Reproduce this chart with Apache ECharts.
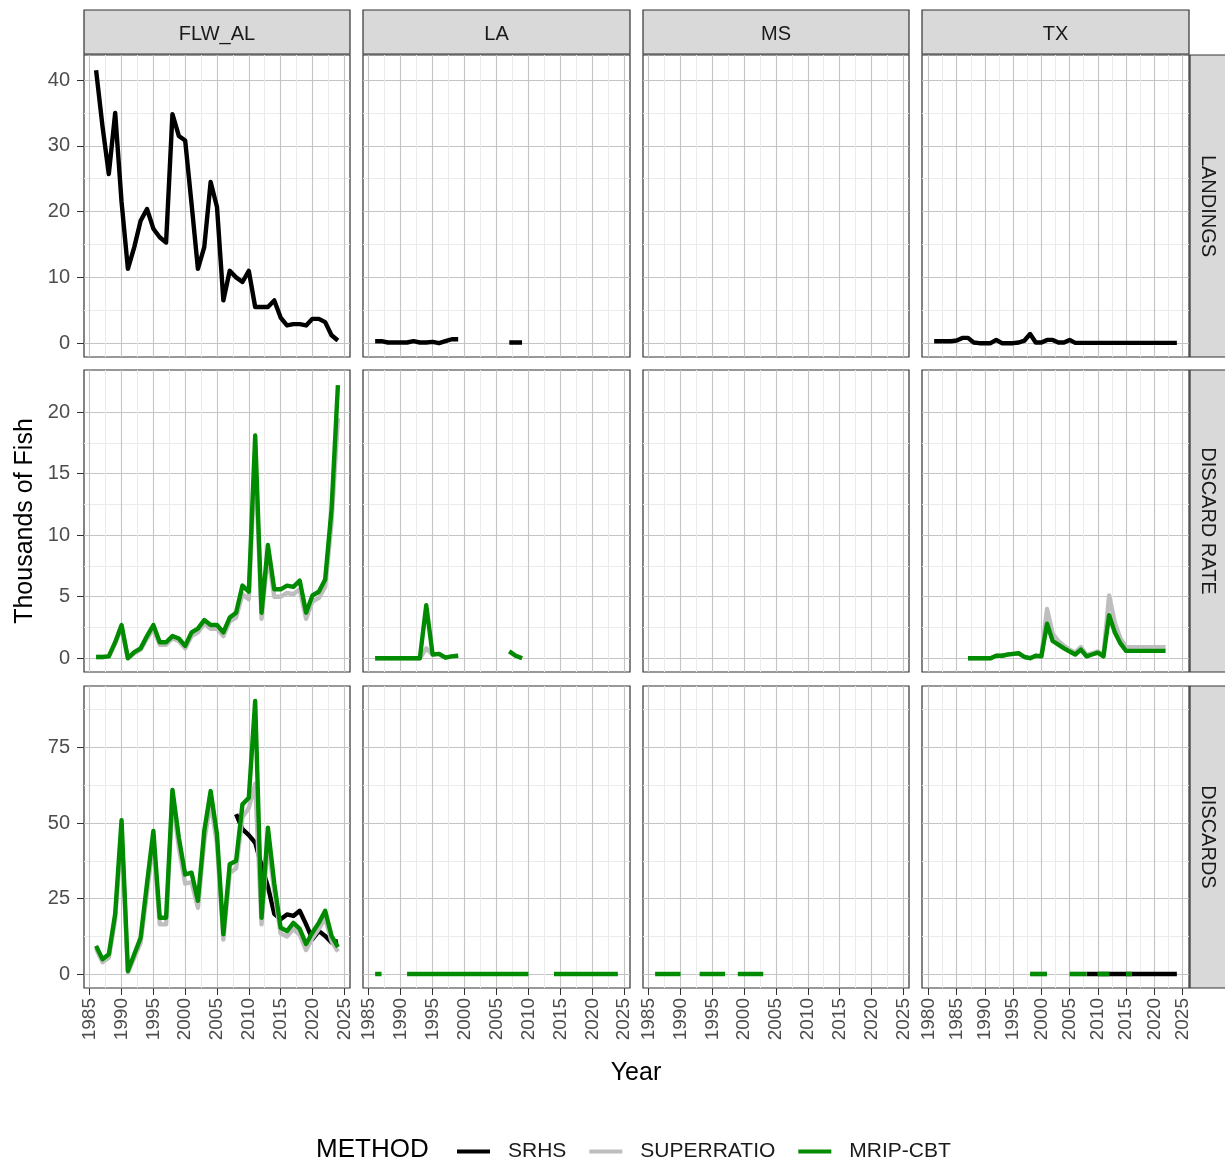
<!DOCTYPE html>
<html><head><meta charset="utf-8">
<script src="https://cdn.jsdelivr.net/npm/echarts@6/dist/echarts.min.js"></script>
<style>html,body{margin:0;padding:0;background:#fff}#c{width:1225px;height:1162px}</style>
</head><body><div id="c"></div>
<script>
// ---------------- DATA ----------------
const yearsMain = [1986,1987,1988,1989,1990,1991,1992,1993,1994,1995,1996,1997,1998,1999,2000,2001,2002,2003,2004,2005,2006,2007,2008,2009,2010,2011,2012,2013,2014,2015,2016,2017,2018,2019,2020,2021,2022,2023,2024];
const yearsTX = [1981,1982,1983,1984,1985,1986,1987,1988,1989,1990,1991,1992,1993,1994,1995,1996,1997,1998,1999,2000,2001,2002,2003,2004,2005,2006,2007,2008,2009,2010,2011,2012,2013,2014,2015,2016,2017,2018,2019,2020,2021,2022,2023,2024];

const stateNames = ['FLW_AL','LA','MS','TX'];
const typeNames = ['LANDINGS','DISCARD RATE','DISCARDS'];
const methodNames = ['SRHS','SUPERRATIO','MRIP-CBT'];

// FLW_AL (1986-2024)
const flwLandSrhs = [41.5,33.0,25.7,35.0,21.5,11.3,14.6,18.6,20.4,17.4,16.1,15.3,34.8,31.5,30.8,21.2,11.3,14.6,24.5,20.7,6.5,11.0,10.0,9.3,11.0,5.5,5.5,5.5,6.5,3.9,2.7,2.9,2.9,2.7,3.7,3.7,3.2,1.2,0.4];
const flwRateSuper = [0.1,0.1,0.15,1.2,2.5,0.0,0.4,0.7,1.6,2.4,1.1,1.1,1.6,1.4,0.8,1.8,2.1,2.8,2.4,2.4,1.8,3.0,3.3,5.2,4.8,16.5,3.2,8.4,5.0,5.0,5.3,5.2,5.6,3.2,4.6,4.9,5.8,11.0,19.5];
const flwRateMrip = [0.1,0.1,0.15,1.3,2.7,0.0,0.5,0.8,1.8,2.7,1.3,1.3,1.8,1.6,1.0,2.1,2.4,3.1,2.7,2.7,2.1,3.3,3.7,5.9,5.4,18.1,3.7,9.2,5.6,5.6,5.9,5.8,6.3,3.7,5.1,5.4,6.4,12.1,22.2];
const flwDiscSrhs = [null,null,null,null,null,null,null,null,null,null,null,null,null,null,null,null,null,null,null,null,null,null,53.0,48.0,46.0,43.5,36.0,29.0,20.0,18.2,19.8,19.3,21.0,16.5,11.6,14.3,12.7,10.5,11.0];
const flwDiscSuper = [8.5,4.0,5.5,18.0,47.0,0.5,5.5,10.5,27.0,44.0,16.5,16.5,58.0,42.0,30.0,30.5,22.0,44.0,57.0,43.0,11.5,33.5,35.0,52.0,55.0,63.0,16.5,44.0,27.5,13.5,12.5,15.0,13.0,8.0,12.0,15.0,18.5,11.0,7.5];
const flwDiscMrip = [9.4,5.0,6.6,20.0,51.0,1.1,6.6,12.1,30.0,47.4,18.7,18.7,61.0,45.2,33.0,33.6,24.3,47.4,60.6,46.3,13.2,36.4,37.5,56.2,58.4,90.4,18.7,48.5,30.0,15.4,14.3,17.0,15.0,10.0,13.8,17.0,21.0,12.7,9.0];

// LA (1986-2024)
const laLandSrhs = [0.3,0.3,0.1,0.1,0.1,0.1,0.3,0.1,0.1,0.2,0.0,0.3,0.6,0.6,null,null,null,null,null,null,null,0.1,0.1,0.1,null,null,null,null,null,null,null,null,null,null,null,null,null,null,null];
const laRateSuper = [0,0,0,0,0,0,0,0,0.8,0.3,0.35,0.05,0.15,0.2,null,null,null,null,null,null,null,0.55,0.2,0.0,null,null,null,null,null,null,null,null,null,null,null,null,null,null,null];
const laRateMrip = [0,0,0,0,0,0,0,0,4.3,0.3,0.35,0.05,0.15,0.2,null,null,null,null,null,null,null,0.55,0.2,0.0,null,null,null,null,null,null,null,null,null,null,null,null,null,null,null];
const laDiscMrip = [0.1,0.1,null,null,null,0.1,0.1,0.1,0.1,0.1,0.1,0.1,0.1,0.1,0.1,0.1,0.1,0.1,0.1,0.1,0.1,0.1,0.1,0.1,0.1,null,null,null,0.1,0.1,0.1,0.1,0.1,0.1,0.1,0.1,0.1,0.1,0.1];

// MS (1986-2024)
const msDiscMrip = [0.1,0.1,0.1,0.1,0.1,null,null,0.1,0.1,0.1,0.1,0.1,null,0.1,0.1,0.1,0.1,0.1,null,null,null,null,null,null,null,null,null,null,null,null,null,null,null,null,null,null,null,null,null];

// TX (1981-2024)
const txLandSrhs = [0.3,0.3,0.3,0.3,0.4,0.8,0.8,0.1,0.0,0.0,0.0,0.5,0.0,0.0,0.0,0.1,0.4,1.4,0.1,0.1,0.5,0.5,0.1,0.1,0.5,0.05,0.05,0.05,0.05,0.05,0.05,0.05,0.05,0.05,0.05,0.05,0.05,0.05,0.05,0.05,0.05,0.05,0.05,0.05];
const txRateSuper = [null,null,null,null,null,null,0,0,0,0,0,0.2,0.2,0.3,0.35,0.4,0.1,0.0,0.2,0.15,4.0,2.0,1.4,1.0,0.7,0.45,0.9,0.25,0.4,0.55,0.25,5.1,2.9,1.6,0.9,0.9,0.9,0.9,0.9,0.9,0.9,0.9,null,null];
const txRateMrip = [null,null,null,null,null,null,0,0,0,0,0,0.2,0.2,0.3,0.35,0.4,0.1,0.0,0.2,0.15,2.8,1.4,1.1,0.8,0.55,0.3,0.7,0.15,0.3,0.45,0.15,3.5,2.1,1.2,0.6,0.6,0.6,0.6,0.6,0.6,0.6,0.6,null,null];
const txDiscSrhs = [null,null,null,null,null,null,null,null,null,null,null,null,null,null,null,null,null,null,null,null,null,null,null,null,null,null,null,0.1,0.1,0.1,0.1,0.1,0.1,0.1,0.1,0.1,0.1,0.1,0.1,0.1,0.1,0.1,0.1,0.1];
const txDiscSuper = [null,null,null,null,null,null,null,null,null,null,null,null,null,null,null,null,null,0.1,0.1,0.1,0.1,null,null,null,0.1,0.1,0.1,0.1,null,0.1,0.1,0.1,null,null,0.1,0.1,null,null,null,null,null,null,null,null];
const txDiscMrip = [null,null,null,null,null,null,null,null,null,null,null,null,null,null,null,null,null,0.1,0.1,0.1,0.1,null,null,null,0.1,0.1,0.1,0.1,null,0.1,0.1,0.1,null,null,0.1,0.1,null,null,null,null,null,null,null,null];

// axis ticks
const yMajorTicks = [[0,10,20,30,40],[0,5,10,15,20],[0,25,50,75]];
const yMinorTicks = [[5,15,25,35],[2.5,7.5,12.5,17.5],[12.5,37.5,62.5,87.5]];
const xMajorTicks = [1985,1990,1995,2000,2005,2010,2015,2020,2025];
const xMajorTicksTX = [1980,1985,1990,1995,2000,2005,2010,2015,2020,2025];
const xMinorTicks = [1987.5,1992.5,1997.5,2002.5,2007.5,2012.5,2017.5,2022.5];
const xMinorTicksTX = [1982.5,1987.5,1992.5,1997.5,2002.5,2007.5,2012.5,2017.5,2022.5];

// ---------------- LAYOUT / STYLE ----------------
const FONT = '"Liberation Sans", Arial, sans-serif';
const COLORS = {'SRHS':'#000000','SUPERRATIO':'#BEBEBE','MRIP-CBT':'#008B00'};
const colLeft = [84, 363, 643, 922];
const colW = [266, 267, 266, 267];
const rowTop = [55, 370, 686];
const rowH = 302;
const yRanges = [[-2.1,43.8],[-1.12,23.42],[-4.54,95.35]];
const xRanges = [[1984.1,2025.9],[1984.1,2025.9],[1984.1,2025.9],[1978.85,2026.15]];

const panelSeries = [
  [ [['SRHS',yearsMain,flwLandSrhs]], [['SRHS',yearsMain,laLandSrhs]], [], [['SRHS',yearsTX,txLandSrhs]] ],
  [ [['SUPERRATIO',yearsMain,flwRateSuper],['MRIP-CBT',yearsMain,flwRateMrip]],
    [['SUPERRATIO',yearsMain,laRateSuper],['MRIP-CBT',yearsMain,laRateMrip]],
    [],
    [['SUPERRATIO',yearsTX,txRateSuper],['MRIP-CBT',yearsTX,txRateMrip]] ],
  [ [['SRHS',yearsMain,flwDiscSrhs],['SUPERRATIO',yearsMain,flwDiscSuper],['MRIP-CBT',yearsMain,flwDiscMrip]],
    [['MRIP-CBT',yearsMain,laDiscMrip]],
    [['MRIP-CBT',yearsMain,msDiscMrip]],
    [['SRHS',yearsTX,txDiscSrhs],['SUPERRATIO',yearsTX,txDiscSuper],['MRIP-CBT',yearsTX,txDiscMrip]] ]
];

const grids = [], xAxes = [], yAxes = [], series = [], graphics = [];
for (let r = 0; r < 3; r++) {
  for (let c = 0; c < 4; c++) {
    const g = grids.length;
    grids.push({left: colLeft[c], top: rowTop[r], width: colW[c], height: rowH,
      show: true, backgroundColor: '#ffffff', borderColor: '#333333', borderWidth: 1.2});
    const xr = xRanges[c], yr = yRanges[r];
    const xMaj = c === 3 ? xMajorTicksTX : xMajorTicks;
    const xMin = c === 3 ? xMinorTicksTX : xMinorTicks;
    // minor axes (grid lines only)
    xAxes.push({type:'value', gridIndex:g, min:xr[0], max:xr[1], position:'top',
      axisLine:{show:false,onZero:false}, axisTick:{show:false, customValues:xMin}, axisLabel:{show:false, customValues:xMin},
      splitLine:{show:true, lineStyle:{color:'#EBEBEB', width:1}}});
    yAxes.push({type:'value', gridIndex:g, min:yr[0], max:yr[1], position:'right',
      axisLine:{show:false,onZero:false}, axisTick:{show:false, customValues:yMinorTicks[r]}, axisLabel:{show:false, customValues:yMinorTicks[r]},
      splitLine:{show:true, lineStyle:{color:'#EBEBEB', width:1}}});
    // major axes
    const xi = xAxes.length;
    xAxes.push({type:'value', gridIndex:g, min:xr[0], max:xr[1], position:'bottom',
      axisLine:{show:false,onZero:false},
      axisTick:{show: r === 2, length:7, lineStyle:{color:'#333333', width:1}, customValues:xMaj},
      axisLabel:{show: r === 2, rotate:90, margin:10, color:'#4D4D4D', fontSize:19, fontFamily:FONT, customValues:xMaj,
        formatter: v => String(v)},
      splitLine:{show:true, lineStyle:{color:'#C4C4C4', width:1.1}}});
    const yi = yAxes.length;
    yAxes.push({type:'value', gridIndex:g, min:yr[0], max:yr[1], position:'left',
      axisLine:{show:false,onZero:false},
      axisTick:{show: c === 0, length:7, lineStyle:{color:'#333333', width:1}, customValues:yMajorTicks[r]},
      axisLabel:{show: c === 0, margin:14, color:'#4D4D4D', fontSize:20, fontFamily:FONT, customValues:yMajorTicks[r],
        formatter: v => String(v)},
      splitLine:{show:true, lineStyle:{color:'#C4C4C4', width:1.1}}});
    for (const [name, yrs, vals] of panelSeries[r][c]) {
      series.push({type:'line', name, xAxisIndex:xi, yAxisIndex:yi,
        data: yrs.map((y, i) => [y, vals[i] === null ? '-' : vals[i]]),
        showSymbol:false, symbol:'none', silent:true, animation:false, connectNulls:false,
        lineStyle:{width:4.4, color:COLORS[name], cap:'butt', join:'round'},
        itemStyle:{color:COLORS[name]}, emphasis:{disabled:true}});
    }
  }
}

// strips
for (let c = 0; c < 4; c++) {
  graphics.push({type:'rect', shape:{x:colLeft[c], y:10, width:colW[c], height:44},
    style:{fill:'#D9D9D9', stroke:'#333333', lineWidth:1.2}});
  graphics.push({type:'text', x:colLeft[c] + colW[c]/2, y:34,
    style:{text:stateNames[c], fill:'#1A1A1A', font:'20px ' + FONT, align:'center', verticalAlign:'middle', textAlign:'center', textVerticalAlign:'middle'}});
}
for (let r = 0; r < 3; r++) {
  graphics.push({type:'rect', shape:{x:1190, y:rowTop[r], width:50, height:rowH},
    style:{fill:'#D9D9D9', stroke:'#333333', lineWidth:1.2}});
  graphics.push({type:'text', x:1208, y:rowTop[r] + rowH/2, rotation:-Math.PI/2,
    style:{text:typeNames[r], fill:'#1A1A1A', font:'20px ' + FONT, align:'center', verticalAlign:'middle', textAlign:'center', textVerticalAlign:'middle'}});
}
graphics.push({type:'text', x:636, y:1073,
  style:{text:'Year', fill:'#000000', font:'25px ' + FONT, align:'center', verticalAlign:'middle', textAlign:'center', textVerticalAlign:'middle'}});
graphics.push({type:'text', x:25, y:521, rotation:Math.PI/2,
  style:{text:'Thousands of Fish', fill:'#000000', font:'25px ' + FONT, align:'center', verticalAlign:'middle', textAlign:'center', textVerticalAlign:'middle'}});
graphics.push({type:'text', x:316, y:1150,
  style:{text:'METHOD', fill:'#000000', font:'26px ' + FONT, align:'left', verticalAlign:'middle', textAlign:'left', textVerticalAlign:'middle'}});

const chart = echarts.init(document.getElementById('c'), null, {renderer:'canvas', width:1225, height:1162});
chart.setOption({
  animation:false,
  backgroundColor:'#ffffff',
  grid:grids, xAxis:xAxes, yAxis:yAxes, series,
  legend:{left:452, top:1136, icon:'rect', itemWidth:33, itemHeight:4, itemGap:23, selectedMode:false,
    data:methodNames, textStyle:{fontSize:21, color:'#1A1A1A', fontFamily:FONT, padding:[0,0,0,13]}},
  graphic:graphics
});
</script>
</body></html>
